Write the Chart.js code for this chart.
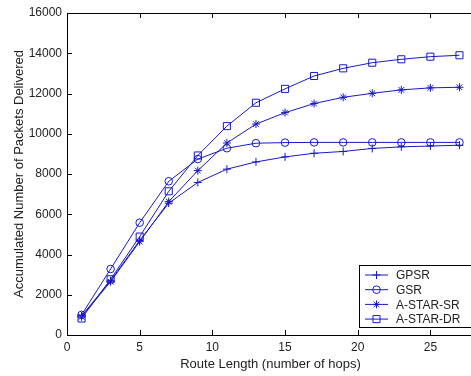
<!DOCTYPE html>
<html>
<head>
<meta charset="utf-8">
<script src="https://cdn.jsdelivr.net/npm/chart.js@4"></script>
<style>
  html, body { margin: 0; padding: 0; background: #fff; overflow: hidden; }
  #wrap { width: 480px; height: 376px; }
</style>
</head>
<body>
<div id="wrap"><canvas id="chart" width="480" height="376"></canvas></div>
<script>
// route length in hops
const hops = [1, 3, 5, 7, 9, 11, 13, 15, 17, 19, 21, 23, 25, 27];

// accumulated packets delivered
const gpsr    = [950, 2700, 4700, 6550, 7580, 8240, 8600, 8850, 9030, 9120, 9270, 9350, 9390, 9430];
const gsr     = [1000, 3280, 5580, 7640, 8740, 9280, 9530, 9560, 9570, 9570, 9570, 9570, 9570, 9570];
const astarSr = [900, 2650, 4640, 6630, 8170, 9540, 10480, 11050, 11500, 11810, 12010, 12180, 12280, 12310];
const astarDr = [820, 2770, 4890, 7140, 8920, 10380, 11540, 12230, 12870, 13250, 13530, 13700, 13830, 13900];

const seriesNames = ["GPSR", "GSR", "A-STAR-SR", "A-STAR-DR"];
const seriesValues = [gpsr, gsr, astarSr, astarDr];
const markers = ["cross", "circle", "star", "rect"];
const radii = [4, 3.8, 4, 5];

const xTicks = [0, 5, 10, 15, 20, 25];
const yTicks = [0, 2000, 4000, 6000, 8000, 10000, 12000, 14000, 16000];

const blue = "#1818c8";
const font = "Liberation Sans, Arial, sans-serif";

function pts(vals) {
    return hops.map((h, i) => ({ x: h, y: vals[i] }));
}

const datasets = seriesNames.map((name, i) => ({
    label: name,
    data: pts(seriesValues[i]),
    borderColor: blue,
    borderWidth: 1,
    backgroundColor: "transparent",
    pointStyle: markers[i],
    pointRadius: radii[i],
    pointBorderColor: blue,
    pointBorderWidth: 1,
    pointBackgroundColor: "transparent",
    tension: 0,
}));

// matlab style box: inward ticks and the legend box
const matlabBox = {
    id: "matlabBox",
    afterDraw(chart) {
        const ctx = chart.ctx;
        const a = chart.chartArea;
        const xs = chart.scales.x, ys = chart.scales.y;
        ctx.save();
        ctx.strokeStyle = "#000";
        ctx.lineWidth = 1;
        ctx.beginPath();
        ctx.moveTo(a.left + 0.5, a.top + 0.5);
        ctx.lineTo(a.right, a.top + 0.5);
        ctx.moveTo(a.left + 0.5, a.top);
        ctx.lineTo(a.left + 0.5, a.bottom + 0.5);
        ctx.lineTo(a.right, a.bottom + 0.5);
        for (const t of xTicks) {
            const px = Math.round(xs.getPixelForValue(t)) + 0.5;
            ctx.moveTo(px, a.bottom);
            ctx.lineTo(px, a.bottom - 5);
            ctx.moveTo(px, a.top);
            ctx.lineTo(px, a.top + 5);
        }
        for (const t of yTicks) {
            const py = Math.round(ys.getPixelForValue(t)) + 0.5;
            ctx.moveTo(a.left, py);
            ctx.lineTo(a.left + 5, py);
        }
        ctx.stroke();

        // legend
        const bx = a.right - 115, by = a.bottom - 70, bw = 140, bh = 62;
        ctx.fillStyle = "#fff";
        ctx.fillRect(bx, by, bw, bh);
        ctx.strokeRect(bx + 0.5, by + 0.5, bw, bh);
        ctx.font = "12px " + font;
        ctx.textBaseline = "middle";
        chart.data.datasets.forEach((ds, i) => {
            const y = by + 10 + i * 14.7;
            ctx.strokeStyle = blue;
            ctx.beginPath();
            ctx.moveTo(bx + 6, y);
            ctx.lineTo(bx + 29, y);
            ctx.stroke();
            ctx.fillStyle = "rgba(0,0,0,0)";
            Chart.helpers.drawPoint(ctx, {
                pointStyle: ds.pointStyle, radius: ds.pointRadius, borderWidth: 1
            }, bx + 17.5, y);
            ctx.fillStyle = "#222";
            ctx.fillText(ds.label, bx + 37, y + 1);
        });
        ctx.restore();
    }
};

new Chart(document.getElementById("chart"), {
    type: "line",
    data: { datasets: datasets },
    options: {
        responsive: false,
        animation: false,
        layout: { padding: { top: 13, right: 4, left: 0, bottom: 0 } },
        plugins: { legend: { display: false }, tooltip: { enabled: false } },
        scales: {
            x: {
                type: "linear",
                min: 0,
                max: 28,
                afterBuildTicks: s => { s.ticks = xTicks.map(v => ({ value: v })); },
                afterFit: s => { s.height = 41; },
                grid: { display: false, drawTicks: false },
                border: { display: false },
                ticks: { color: "#222", font: { family: font, size: 12 }, padding: 5, maxRotation: 0 },
                title: {
                    display: true,
                    text: "Route Length (number of hops)",
                    color: "#222",
                    font: { family: font, size: 13 },
                    padding: { top: 3 }
                }
            },
            y: {
                min: 0,
                max: 16000,
                afterBuildTicks: s => { s.ticks = yTicks.map(v => ({ value: v })); },
                afterFit: s => { s.width = 67; },
                grid: { display: false, drawTicks: false },
                border: { display: false },
                ticks: { color: "#222", font: { family: font, size: 12 }, padding: 5, callback: v => String(v) },
                title: {
                    display: true,
                    text: "Accumulated Number of Packets Delivered",
                    color: "#222",
                    font: { family: font, size: 13 },
                    padding: { top: 12, bottom: 0 }
                }
            }
        }
    },
    plugins: [matlabBox]
});
</script>
</body>
</html>
